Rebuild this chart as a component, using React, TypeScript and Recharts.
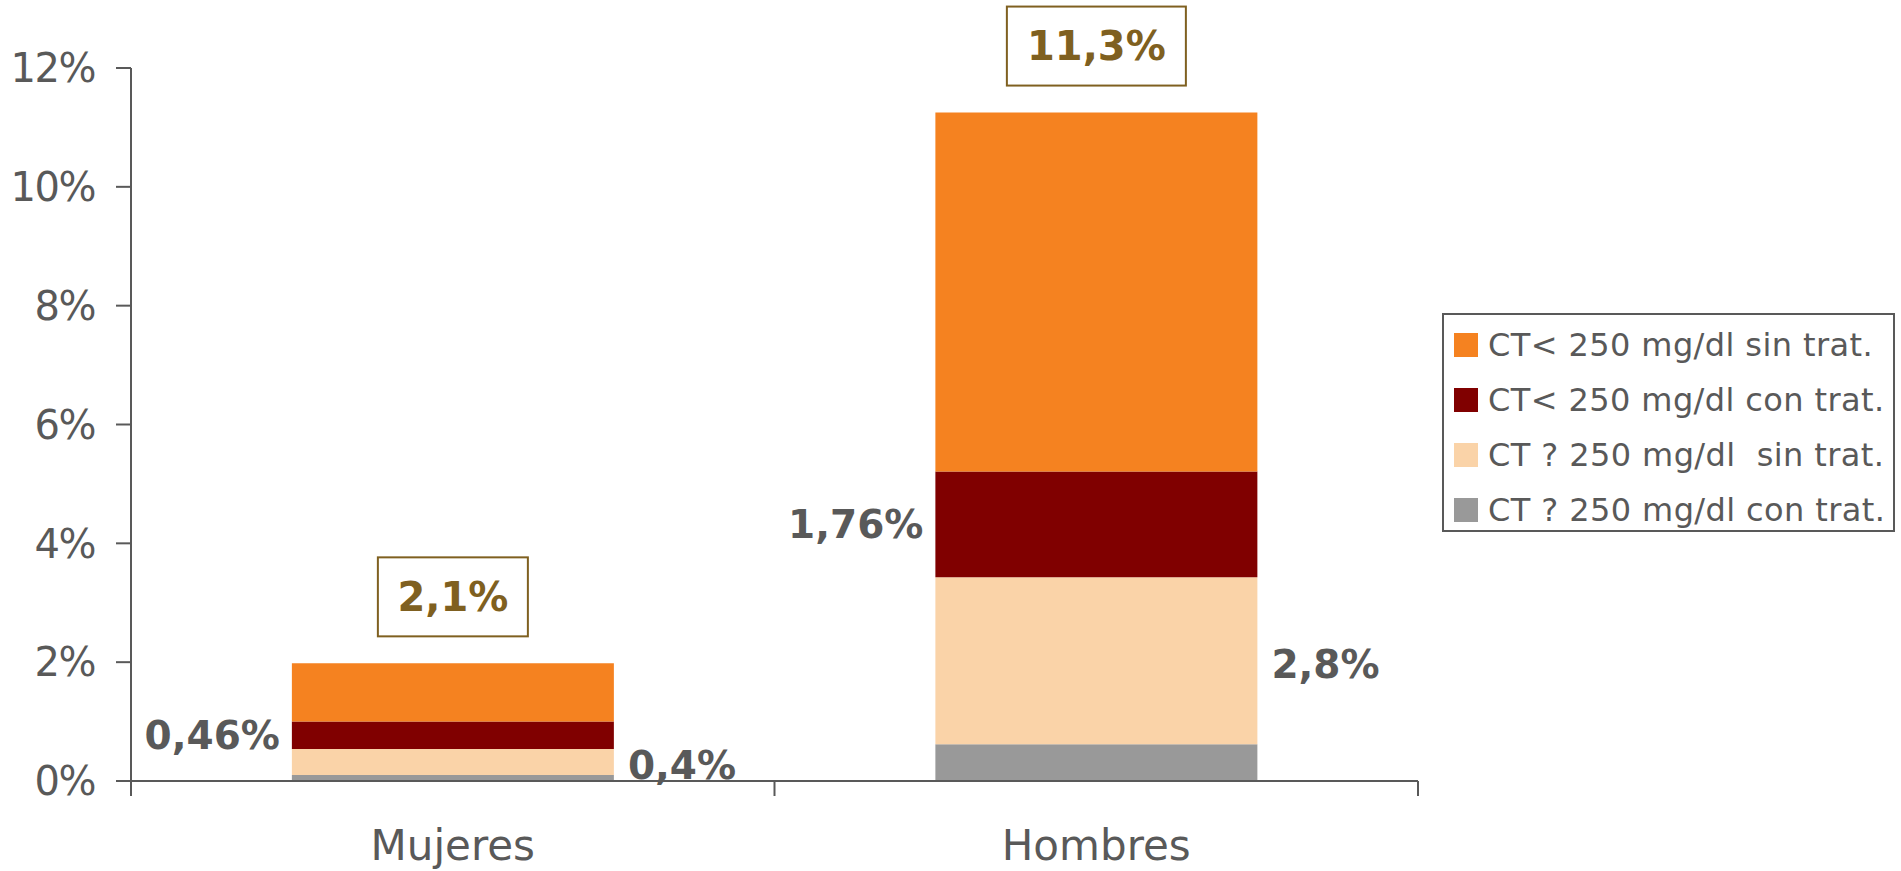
import React from "react";
import { BarChart, Bar, XAxis, YAxis, LabelList } from "recharts";

const categories = ["Mujeres", "Hombres"];
const grayValues = [0.1, 0.62];
const lightValues = [0.44, 2.81];
const darkValues = [0.46, 1.78];
const orangeValues = [0.98, 6.04];
const totalLabels = ["2,1%", "11,3%"];
const darkLabels = ["0,46%", "1,76%"];
const lightLabels = ["0,4%", "2,8%"];
const yTicks = [0, 2, 4, 6, 8, 10, 12];

const seriesKeys = ["orange", "dark", "light", "gray"];
const seriesNames = [
  "CT< 250 mg/dl sin trat.",
  "CT< 250 mg/dl con trat.",
  "CT ? 250 mg/dl  sin trat.",
  "CT ? 250 mg/dl con trat.",
];
const seriesColors = ["#F58220", "#800000", "#FAD3A8", "#999999"];

const data = categories.map((name, i) => ({
  name,
  gray: grayValues[i],
  light: lightValues[i],
  dark: darkValues[i],
  orange: orangeValues[i],
}));

const TEXT = "#595959";
const BROWN = "#7F6020";
const FONT = "'DejaVu Sans', sans-serif";

const TotalLabel = (props: any) => {
  const { x, y, width, index } = props;
  const label = totalLabels[index];
  const cx = x + width / 2;
  const boxW = label.length * 29 + 34;
  const boxH = 79;
  const bottom = y - 27;
  return (
    <g>
      <rect x={cx - boxW / 2} y={bottom - boxH} width={boxW} height={boxH} fill="#fff" stroke={BROWN} strokeWidth={2} />
      <text x={cx} y={bottom - boxH / 2} textAnchor="middle" dominantBaseline="central" fill={BROWN} fontSize={40} fontWeight="bold" fontFamily={FONT}>
        {label}
      </text>
    </g>
  );
};

const LeftLabel = (props: any) => {
  const { x, y, height, index } = props;
  return (
    <text x={x - 12} y={y + height / 2} textAnchor="end" dominantBaseline="central" fill={TEXT} fontSize={39} fontWeight="bold" fontFamily={FONT}>
      {darkLabels[index]}
    </text>
  );
};

const RightLabel = (props: any) => {
  const { x, y, width, height, index } = props;
  return (
    <text x={x + width + 14} y={y + height / 2 + 4} textAnchor="start" dominantBaseline="central" fill={TEXT} fontSize={39} fontWeight="bold" fontFamily={FONT}>
      {lightLabels[index]}
    </text>
  );
};

const CategoryTick = (props: any) => {
  const { x, y, payload, index } = props;
  const half = payload && typeof payload.offset === "number" ? payload.offset : 0;
  return (
    <g>
      {half > 0 && index === 0 && (
        <line x1={x - half} x2={x - half} y1={y} y2={y + 15} stroke={TEXT} strokeWidth={2} />
      )}
      {half > 0 && (
        <line x1={x + half} x2={x + half} y1={y} y2={y + 15} stroke={TEXT} strokeWidth={2} />
      )}
      <text x={x} y={y + 49} dy="0.71em" textAnchor="middle" fill={TEXT} fontSize={42} fontFamily={FONT}>
        {payload.value}
      </text>
    </g>
  );
};

export default function App() {
  return (
    <div style={{ position: "absolute", left: 0, top: 0, width: 1901, height: 871, fontFamily: FONT, background: "#fff" }}>
      <BarChart
        width={1901}
        height={871}
        data={data}
        margin={{ top: 68, right: 483, bottom: 20, left: 0 }}
        barCategoryGap="25%"
        style={{ fontFamily: FONT }}
      >
        <XAxis
          xAxisId="cat"
          dataKey="name"
          tickLine={false}
          tickSize={0}
          tickMargin={0}
          height={70}
          axisLine={{ stroke: TEXT, strokeWidth: 2 }}
          tick={CategoryTick}
        />
        <YAxis
          domain={[0, 12]}
          ticks={yTicks}
          width={131}
          tickSize={15}
          tickMargin={21}
          tickFormatter={(v: number) => `${v}%`}
          axisLine={{ stroke: TEXT, strokeWidth: 2 }}
          tickLine={{ stroke: TEXT, strokeWidth: 2 }}
          tick={{ fill: TEXT, fontSize: 40, fontFamily: FONT, letterSpacing: -1.5 }}
        />
        <Bar xAxisId="cat" dataKey="gray" stackId="s" fill={seriesColors[3]} isAnimationActive={false} />
        <Bar xAxisId="cat" dataKey="light" stackId="s" fill={seriesColors[2]} isAnimationActive={false}>
          <LabelList dataKey="light" content={RightLabel} />
        </Bar>
        <Bar xAxisId="cat" dataKey="dark" stackId="s" fill={seriesColors[1]} isAnimationActive={false}>
          <LabelList dataKey="dark" content={LeftLabel} />
        </Bar>
        <Bar xAxisId="cat" dataKey="orange" stackId="s" fill={seriesColors[0]} isAnimationActive={false}>
          <LabelList dataKey="orange" content={TotalLabel} />
        </Bar>
      </BarChart>
      <div
        style={{
          position: "absolute",
          left: 1442,
          top: 313,
          width: 453,
          height: 219,
          boxSizing: "border-box",
          border: `2px solid ${TEXT}`,
          paddingTop: 2,
        }}
      >
        {seriesKeys.map((k, i) => (
          <div key={k} style={{ height: 55, display: "flex", alignItems: "center", paddingLeft: 10 }}>
            <div style={{ width: 24, height: 24, background: seriesColors[i], marginRight: 10, flexShrink: 0 }} />
            <span style={{ fontSize: 32, color: TEXT, whiteSpace: "pre", fontFamily: FONT, letterSpacing: 0.4 }}>{seriesNames[i]}</span>
          </div>
        ))}
      </div>
    </div>
  );
}
